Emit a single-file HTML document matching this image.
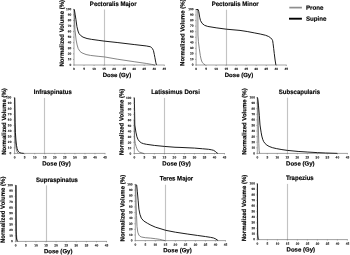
<!DOCTYPE html>
<html><head><meta charset="utf-8"><title>DVH</title>
<style>
html,body{margin:0;padding:0;background:#fff;}
svg{display:block;font-family:"Liberation Sans",sans-serif;}
text{font-family:"Liberation Sans",sans-serif;font-weight:bold;fill:#000;stroke:#000;text-rendering:geometricPrecision;}
.t{font-size:6.40px;stroke-width:0.17px;}
.l{font-size:6.04px;stroke-width:0.17px;}
.g{font-size:6.20px;stroke-width:0.17px;}
.k{font-size:3.20px;stroke-width:0.08px;}
.fx{filter:blur(0.2px);}
</style></head><body>
<svg width="350" height="255" viewBox="0 0 350 255">
<rect width="350" height="255" fill="#fff"/>
<g class="fx">
<g>
<line x1="104.50" y1="9.50" x2="104.50" y2="65.00" stroke="#c3c3c3" stroke-width="1.14"/>
<path d="M74.10 9.30 L74.50 17.65 L74.90 29.35 L76.11 39.94 L77.11 44.95 L78.21 48.57 L80.02 51.46 L82.03 52.91 L86.04 54.53 L90.45 55.42 L98.08 56.31 L104.50 56.92 L117.14 59.15 L134.20 61.71 L146.24 63.44 L151.26 64.33 L154.87 65.00" fill="none" stroke="#707070" stroke-width="0.85" stroke-linejoin="round"/>
<path d="M74.00 9.30 L74.40 9.86 L75.20 14.87 L75.91 19.33 L76.91 26.57 L78.01 31.02 L79.02 33.59 L80.62 35.48 L83.03 37.15 L87.04 38.54 L91.66 39.38 L98.08 40.27 L104.10 41.10 L117.14 42.50 L134.20 44.56 L146.24 45.95 L150.25 46.73 L151.46 47.45 L152.46 48.68 L153.46 50.57 L154.27 54.42 L154.87 57.42 L155.87 62.77 L156.47 65.00" fill="none" stroke="#000" stroke-width="0.9" stroke-linejoin="round"/>
<path d="M74.00 9.30 V65.00 H164.70" fill="none" stroke="#444" stroke-width="0.5"/>
<path d="M74.00 65.00h-1 M74.00 59.43h-1 M74.00 53.86h-1 M74.00 48.29h-1 M74.00 42.72h-1 M74.00 37.15h-1 M74.00 31.58h-1 M74.00 26.01h-1 M74.00 20.44h-1 M74.00 14.87h-1 M74.00 9.30h-1 M74.00 65.00v1 M84.03 65.00v1 M94.07 65.00v1 M104.10 65.00v1 M114.13 65.00v1 M124.17 65.00v1 M134.20 65.00v1 M144.23 65.00v1 M154.27 65.00v1 M164.30 65.00v1" stroke="#444" stroke-width="0.35" fill="none"/>
<text class="k" transform="translate(71.23 65.90) rotate(0.05)" text-anchor="end">0</text>
<text class="k" transform="translate(71.23 60.33) rotate(0.05)" text-anchor="end">10</text>
<text class="k" transform="translate(71.23 54.76) rotate(0.05)" text-anchor="end">20</text>
<text class="k" transform="translate(71.23 49.19) rotate(0.05)" text-anchor="end">30</text>
<text class="k" transform="translate(71.23 43.62) rotate(0.05)" text-anchor="end">40</text>
<text class="k" transform="translate(71.23 38.05) rotate(0.05)" text-anchor="end">50</text>
<text class="k" transform="translate(71.23 32.48) rotate(0.05)" text-anchor="end">60</text>
<text class="k" transform="translate(71.23 26.91) rotate(0.05)" text-anchor="end">70</text>
<text class="k" transform="translate(71.23 21.34) rotate(0.05)" text-anchor="end">80</text>
<text class="k" transform="translate(71.23 15.77) rotate(0.05)" text-anchor="end">90</text>
<text class="k" transform="translate(71.23 10.20) rotate(0.05)" text-anchor="end">100</text>
<text class="k" transform="translate(74.00 70.05) rotate(0.05)" text-anchor="middle">0</text>
<text class="k" transform="translate(84.03 70.05) rotate(0.05)" text-anchor="middle">5</text>
<text class="k" transform="translate(94.07 70.05) rotate(0.05)" text-anchor="middle">10</text>
<text class="k" transform="translate(104.10 70.05) rotate(0.05)" text-anchor="middle">15</text>
<text class="k" transform="translate(114.13 70.05) rotate(0.05)" text-anchor="middle">20</text>
<text class="k" transform="translate(124.17 70.05) rotate(0.05)" text-anchor="middle">25</text>
<text class="k" transform="translate(134.20 70.05) rotate(0.05)" text-anchor="middle">30</text>
<text class="k" transform="translate(144.23 70.05) rotate(0.05)" text-anchor="middle">35</text>
<text class="k" transform="translate(154.27 70.05) rotate(0.05)" text-anchor="middle">40</text>
<text class="k" transform="translate(164.30 70.05) rotate(0.05)" text-anchor="middle">45</text>
<text class="t" transform="translate(113.20 6.00) rotate(0.05) scale(0.945 1)" text-anchor="middle">Pectoralis Major</text>
<text class="l" transform="translate(116.90 76.90) rotate(0.05)" text-anchor="middle">Dose (Gy)</text>
<text class="l" transform="translate(63.70 33.20) rotate(-89.95)" text-anchor="middle">Normalized Volume (%)</text>
</g>
<g>
<line x1="226.50" y1="9.70" x2="226.50" y2="65.00" stroke="#c3c3c3" stroke-width="1.14"/>
<path d="M196.30 9.50 L197.60 9.50 L197.86 13.94 L197.94 35.03 L198.41 41.69 L199.31 48.68 L200.31 55.56 L201.01 58.89 L201.61 61.00 L202.51 62.78 L203.72 63.89 L205.32 65.00" fill="none" stroke="#707070" stroke-width="0.85" stroke-linejoin="round"/>
<path d="M196.30 9.50 L198.10 9.50 L198.81 11.72 L199.71 17.27 L200.51 20.60 L202.11 23.37 L204.52 25.32 L207.73 26.43 L216.14 27.81 L226.37 29.20 L240.00 30.42 L247.21 31.53 L254.23 32.87 L260.24 34.03 L265.65 35.31 L268.66 36.53 L270.67 37.86 L271.87 39.19 L272.67 40.69 L273.07 43.58 L273.67 48.35 L274.27 53.57 L275.08 60.01 L275.88 65.00" fill="none" stroke="#000" stroke-width="0.9" stroke-linejoin="round"/>
<path d="M196.10 9.50 V65.00 H286.70" fill="none" stroke="#444" stroke-width="0.5"/>
<path d="M196.10 65.00h-1 M196.10 59.45h-1 M196.10 53.90h-1 M196.10 48.35h-1 M196.10 42.80h-1 M196.10 37.25h-1 M196.10 31.70h-1 M196.10 26.15h-1 M196.10 20.60h-1 M196.10 15.05h-1 M196.10 9.50h-1 M196.10 65.00v1 M206.12 65.00v1 M216.14 65.00v1 M226.17 65.00v1 M236.19 65.00v1 M246.21 65.00v1 M256.23 65.00v1 M266.26 65.00v1 M276.28 65.00v1 M286.30 65.00v1" stroke="#444" stroke-width="0.35" fill="none"/>
<text class="k" transform="translate(193.53 65.70) rotate(0.05)" text-anchor="end">0</text>
<text class="k" transform="translate(193.53 60.15) rotate(0.05)" text-anchor="end">10</text>
<text class="k" transform="translate(193.53 54.60) rotate(0.05)" text-anchor="end">20</text>
<text class="k" transform="translate(193.53 49.05) rotate(0.05)" text-anchor="end">30</text>
<text class="k" transform="translate(193.53 43.50) rotate(0.05)" text-anchor="end">40</text>
<text class="k" transform="translate(193.53 37.95) rotate(0.05)" text-anchor="end">50</text>
<text class="k" transform="translate(193.53 32.40) rotate(0.05)" text-anchor="end">60</text>
<text class="k" transform="translate(193.53 26.85) rotate(0.05)" text-anchor="end">70</text>
<text class="k" transform="translate(193.53 21.30) rotate(0.05)" text-anchor="end">80</text>
<text class="k" transform="translate(193.53 15.75) rotate(0.05)" text-anchor="end">90</text>
<text class="k" transform="translate(193.53 10.20) rotate(0.05)" text-anchor="end">100</text>
<text class="k" transform="translate(196.10 70.05) rotate(0.05)" text-anchor="middle">0</text>
<text class="k" transform="translate(206.12 70.05) rotate(0.05)" text-anchor="middle">5</text>
<text class="k" transform="translate(216.14 70.05) rotate(0.05)" text-anchor="middle">10</text>
<text class="k" transform="translate(226.17 70.05) rotate(0.05)" text-anchor="middle">15</text>
<text class="k" transform="translate(236.19 70.05) rotate(0.05)" text-anchor="middle">20</text>
<text class="k" transform="translate(246.21 70.05) rotate(0.05)" text-anchor="middle">25</text>
<text class="k" transform="translate(256.23 70.05) rotate(0.05)" text-anchor="middle">30</text>
<text class="k" transform="translate(266.26 70.05) rotate(0.05)" text-anchor="middle">35</text>
<text class="k" transform="translate(276.28 70.05) rotate(0.05)" text-anchor="middle">40</text>
<text class="k" transform="translate(286.30 70.05) rotate(0.05)" text-anchor="middle">45</text>
<text class="t" transform="translate(235.20 6.00) rotate(0.05) scale(0.945 1)" text-anchor="middle">Pectoralis Minor</text>
<text class="l" transform="translate(239.00 76.90) rotate(0.05)" text-anchor="middle">Dose (Gy)</text>
<text class="l" transform="translate(184.40 32.65) rotate(-89.95)" text-anchor="middle">Normalized Volume (%)</text>
</g>
<g>
<line x1="44.50" y1="97.90" x2="44.50" y2="153.40" stroke="#c3c3c3" stroke-width="1.14"/>
<path d="M14.60 97.70 L14.70 114.41 L14.84 128.34 L15.10 136.69 L15.60 144.49 L16.21 148.94 L17.01 151.73 L18.22 153.40" fill="none" stroke="#707070" stroke-width="0.85" stroke-linejoin="round"/>
<path d="M14.70 97.70 L14.90 108.84 L15.10 122.77 L15.40 132.51 L15.91 140.03 L16.47 145.32 L17.11 148.67 L17.75 150.39 L18.62 151.84 L19.82 152.68 L21.63 153.18 L23.84 153.40" fill="none" stroke="#000" stroke-width="0.9" stroke-linejoin="round"/>
<path d="M14.60 97.70 V153.40 H105.40" fill="none" stroke="#444" stroke-width="0.5"/>
<path d="M14.60 153.40h-1 M14.60 147.83h-1 M14.60 142.26h-1 M14.60 136.69h-1 M14.60 131.12h-1 M14.60 125.55h-1 M14.60 119.98h-1 M14.60 114.41h-1 M14.60 108.84h-1 M14.60 103.27h-1 M14.60 97.70h-1 M14.60 153.40v1 M24.64 153.40v1 M34.69 153.40v1 M44.73 153.40v1 M54.78 153.40v1 M64.82 153.40v1 M74.87 153.40v1 M84.91 153.40v1 M94.96 153.40v1 M105.00 153.40v1" stroke="#444" stroke-width="0.35" fill="none"/>
<text class="k" transform="translate(11.40 154.25) rotate(0.05)" text-anchor="end">0</text>
<text class="k" transform="translate(11.40 148.68) rotate(0.05)" text-anchor="end">10</text>
<text class="k" transform="translate(11.40 143.11) rotate(0.05)" text-anchor="end">20</text>
<text class="k" transform="translate(11.40 137.54) rotate(0.05)" text-anchor="end">30</text>
<text class="k" transform="translate(11.40 131.97) rotate(0.05)" text-anchor="end">40</text>
<text class="k" transform="translate(11.40 126.40) rotate(0.05)" text-anchor="end">50</text>
<text class="k" transform="translate(11.40 120.83) rotate(0.05)" text-anchor="end">60</text>
<text class="k" transform="translate(11.40 115.26) rotate(0.05)" text-anchor="end">70</text>
<text class="k" transform="translate(11.40 109.69) rotate(0.05)" text-anchor="end">80</text>
<text class="k" transform="translate(11.40 104.12) rotate(0.05)" text-anchor="end">90</text>
<text class="k" transform="translate(11.40 98.55) rotate(0.05)" text-anchor="end">100</text>
<text class="k" transform="translate(14.60 158.45) rotate(0.05)" text-anchor="middle">0</text>
<text class="k" transform="translate(24.64 158.45) rotate(0.05)" text-anchor="middle">5</text>
<text class="k" transform="translate(34.69 158.45) rotate(0.05)" text-anchor="middle">10</text>
<text class="k" transform="translate(44.73 158.45) rotate(0.05)" text-anchor="middle">15</text>
<text class="k" transform="translate(54.78 158.45) rotate(0.05)" text-anchor="middle">20</text>
<text class="k" transform="translate(64.82 158.45) rotate(0.05)" text-anchor="middle">25</text>
<text class="k" transform="translate(74.87 158.45) rotate(0.05)" text-anchor="middle">30</text>
<text class="k" transform="translate(84.91 158.45) rotate(0.05)" text-anchor="middle">35</text>
<text class="k" transform="translate(94.96 158.45) rotate(0.05)" text-anchor="middle">40</text>
<text class="k" transform="translate(105.00 158.45) rotate(0.05)" text-anchor="middle">45</text>
<text class="t" transform="translate(52.80 94.10) rotate(0.05) scale(0.945 1)" text-anchor="middle">Infraspinatus</text>
<text class="l" transform="translate(56.50 165.40) rotate(0.05)" text-anchor="middle">Dose (Gy)</text>
<text class="l" transform="translate(6.00 121.50) rotate(-89.95)" text-anchor="middle">Normalized Volume (%)</text>
</g>
<g>
<line x1="164.50" y1="97.90" x2="164.50" y2="153.50" stroke="#c3c3c3" stroke-width="1.14"/>
<path d="M134.30 120.02 L134.40 130.62 L134.70 139.27 L135.30 143.46 L136.10 146.41 L136.91 148.76 L137.91 150.71 L139.51 152.10 L142.12 152.94 L143.92 153.50" fill="none" stroke="#707070" stroke-width="0.85" stroke-linejoin="round"/>
<path d="M134.30 97.70 L134.46 103.28 L134.60 111.65 L134.80 125.04 L135.90 132.13 L136.91 136.76 L137.91 139.27 L139.51 141.50 L141.42 142.90 L143.52 143.68 L146.33 144.29 L154.34 145.41 L164.37 146.41 L174.99 147.25 L180.00 147.42 L194.43 148.09 L202.45 148.76 L208.66 149.31 L211.67 149.82 L213.68 150.38 L215.68 151.71 L216.88 152.83 L217.89 153.50" fill="none" stroke="#000" stroke-width="0.9" stroke-linejoin="round"/>
<path d="M134.30 97.70 V153.50 H224.90" fill="none" stroke="#444" stroke-width="0.5"/>
<path d="M134.30 153.50h-1 M134.30 147.92h-1 M134.30 142.34h-1 M134.30 136.76h-1 M134.30 131.18h-1 M134.30 125.60h-1 M134.30 120.02h-1 M134.30 114.44h-1 M134.30 108.86h-1 M134.30 103.28h-1 M134.30 97.70h-1 M134.30 153.50v1 M144.32 153.50v1 M154.34 153.50v1 M164.37 153.50v1 M174.39 153.50v1 M184.41 153.50v1 M194.43 153.50v1 M204.46 153.50v1 M214.48 153.50v1 M224.50 153.50v1" stroke="#444" stroke-width="0.35" fill="none"/>
<text class="k" transform="translate(131.23 154.80) rotate(0.05)" text-anchor="end">0</text>
<text class="k" transform="translate(131.23 149.22) rotate(0.05)" text-anchor="end">10</text>
<text class="k" transform="translate(131.23 143.64) rotate(0.05)" text-anchor="end">20</text>
<text class="k" transform="translate(131.23 138.06) rotate(0.05)" text-anchor="end">30</text>
<text class="k" transform="translate(131.23 132.48) rotate(0.05)" text-anchor="end">40</text>
<text class="k" transform="translate(131.23 126.90) rotate(0.05)" text-anchor="end">50</text>
<text class="k" transform="translate(131.23 121.32) rotate(0.05)" text-anchor="end">60</text>
<text class="k" transform="translate(131.23 115.74) rotate(0.05)" text-anchor="end">70</text>
<text class="k" transform="translate(131.23 110.16) rotate(0.05)" text-anchor="end">80</text>
<text class="k" transform="translate(131.23 104.58) rotate(0.05)" text-anchor="end">90</text>
<text class="k" transform="translate(131.23 99.00) rotate(0.05)" text-anchor="end">100</text>
<text class="k" transform="translate(134.30 158.55) rotate(0.05)" text-anchor="middle">0</text>
<text class="k" transform="translate(144.32 158.55) rotate(0.05)" text-anchor="middle">5</text>
<text class="k" transform="translate(154.34 158.55) rotate(0.05)" text-anchor="middle">10</text>
<text class="k" transform="translate(164.37 158.55) rotate(0.05)" text-anchor="middle">15</text>
<text class="k" transform="translate(174.39 158.55) rotate(0.05)" text-anchor="middle">20</text>
<text class="k" transform="translate(184.41 158.55) rotate(0.05)" text-anchor="middle">25</text>
<text class="k" transform="translate(194.43 158.55) rotate(0.05)" text-anchor="middle">30</text>
<text class="k" transform="translate(204.46 158.55) rotate(0.05)" text-anchor="middle">35</text>
<text class="k" transform="translate(214.48 158.55) rotate(0.05)" text-anchor="middle">40</text>
<text class="k" transform="translate(224.50 158.55) rotate(0.05)" text-anchor="middle">45</text>
<text class="t" transform="translate(175.50 94.10) rotate(0.05) scale(0.945 1)" text-anchor="middle">Latissimus Dorsi</text>
<text class="l" transform="translate(176.60 165.40) rotate(0.05)" text-anchor="middle">Dose (Gy)</text>
<text class="l" transform="translate(123.60 121.95) rotate(-89.95)" text-anchor="middle">Normalized Volume (%)</text>
</g>
<g>
<line x1="287.50" y1="97.70" x2="287.50" y2="153.40" stroke="#c3c3c3" stroke-width="1.14"/>
<path d="M257.40 97.50 L257.80 105.88 L258.30 125.45 L258.80 143.34 L259.10 150.61 L259.60 153.40" fill="none" stroke="#707070" stroke-width="0.85" stroke-linejoin="round"/>
<path d="M257.50 97.50 L257.90 99.74 L258.50 105.88 L259.30 115.39 L260.00 125.00 L261.10 132.16 L261.81 136.07 L262.71 139.31 L263.71 141.66 L265.11 143.56 L266.91 145.13 L269.11 146.41 L272.32 147.64 L276.32 148.59 L281.93 149.60 L287.33 150.38 L298.15 151.44 L307.76 152.06 L317.37 152.62 L325.38 153.01 L337.39 153.40" fill="none" stroke="#000" stroke-width="0.9" stroke-linejoin="round"/>
<path d="M257.30 97.50 V153.40 H347.80" fill="none" stroke="#444" stroke-width="0.5"/>
<path d="M257.30 153.40h-1 M257.30 147.81h-1 M257.30 142.22h-1 M257.30 136.63h-1 M257.30 131.04h-1 M257.30 125.45h-1 M257.30 119.86h-1 M257.30 114.27h-1 M257.30 108.68h-1 M257.30 103.09h-1 M257.30 97.50h-1 M257.30 153.40v1 M267.31 153.40v1 M277.32 153.40v1 M287.33 153.40v1 M297.34 153.40v1 M307.36 153.40v1 M317.37 153.40v1 M327.38 153.40v1 M337.39 153.40v1 M347.40 153.40v1" stroke="#444" stroke-width="0.35" fill="none"/>
<text class="k" transform="translate(254.93 154.40) rotate(0.05)" text-anchor="end">0</text>
<text class="k" transform="translate(254.93 148.81) rotate(0.05)" text-anchor="end">10</text>
<text class="k" transform="translate(254.93 143.22) rotate(0.05)" text-anchor="end">20</text>
<text class="k" transform="translate(254.93 137.63) rotate(0.05)" text-anchor="end">30</text>
<text class="k" transform="translate(254.93 132.04) rotate(0.05)" text-anchor="end">40</text>
<text class="k" transform="translate(254.93 126.45) rotate(0.05)" text-anchor="end">50</text>
<text class="k" transform="translate(254.93 120.86) rotate(0.05)" text-anchor="end">60</text>
<text class="k" transform="translate(254.93 115.27) rotate(0.05)" text-anchor="end">70</text>
<text class="k" transform="translate(254.93 109.68) rotate(0.05)" text-anchor="end">80</text>
<text class="k" transform="translate(254.93 104.09) rotate(0.05)" text-anchor="end">90</text>
<text class="k" transform="translate(254.93 98.50) rotate(0.05)" text-anchor="end">100</text>
<text class="k" transform="translate(257.30 158.45) rotate(0.05)" text-anchor="middle">0</text>
<text class="k" transform="translate(267.31 158.45) rotate(0.05)" text-anchor="middle">5</text>
<text class="k" transform="translate(277.32 158.45) rotate(0.05)" text-anchor="middle">10</text>
<text class="k" transform="translate(287.33 158.45) rotate(0.05)" text-anchor="middle">15</text>
<text class="k" transform="translate(297.34 158.45) rotate(0.05)" text-anchor="middle">20</text>
<text class="k" transform="translate(307.36 158.45) rotate(0.05)" text-anchor="middle">25</text>
<text class="k" transform="translate(317.37 158.45) rotate(0.05)" text-anchor="middle">30</text>
<text class="k" transform="translate(327.38 158.45) rotate(0.05)" text-anchor="middle">35</text>
<text class="k" transform="translate(337.39 158.45) rotate(0.05)" text-anchor="middle">40</text>
<text class="k" transform="translate(347.40 158.45) rotate(0.05)" text-anchor="middle">45</text>
<text class="t" transform="translate(299.40 94.10) rotate(0.05) scale(0.945 1)" text-anchor="middle">Subscapularis</text>
<text class="l" transform="translate(300.30 165.40) rotate(0.05)" text-anchor="middle">Dose (Gy)</text>
<text class="l" transform="translate(246.20 121.55) rotate(-89.95)" text-anchor="middle">Normalized Volume (%)</text>
</g>
<g>
<line x1="46.50" y1="185.40" x2="46.50" y2="241.40" stroke="#c3c3c3" stroke-width="1.14"/>
<path d="M16.31 185.20 L16.37 218.92 L16.51 234.66 L16.91 239.71 L17.52 241.40" fill="none" stroke="#707070" stroke-width="0.85" stroke-linejoin="round"/>
<path d="M15.80 185.20 L15.90 213.30 L16.06 231.28 L16.41 238.03 L17.01 240.56 L17.72 241.40" fill="none" stroke="#000" stroke-width="0.9" stroke-linejoin="round"/>
<path d="M15.70 185.20 V241.40 H107.00" fill="none" stroke="#444" stroke-width="0.5"/>
<path d="M15.70 241.40h-1 M15.70 235.78h-1 M15.70 230.16h-1 M15.70 224.54h-1 M15.70 218.92h-1 M15.70 213.30h-1 M15.70 207.68h-1 M15.70 202.06h-1 M15.70 196.44h-1 M15.70 190.82h-1 M15.70 185.20h-1 M15.70 241.40v1 M25.80 241.40v1 M35.90 241.40v1 M46.00 241.40v1 M56.10 241.40v1 M66.20 241.40v1 M76.30 241.40v1 M86.40 241.40v1 M96.50 241.40v1 M106.60 241.40v1" stroke="#444" stroke-width="0.35" fill="none"/>
<text class="k" transform="translate(12.83 242.35) rotate(0.05)" text-anchor="end">0</text>
<text class="k" transform="translate(12.83 236.73) rotate(0.05)" text-anchor="end">10</text>
<text class="k" transform="translate(12.83 231.11) rotate(0.05)" text-anchor="end">20</text>
<text class="k" transform="translate(12.83 225.49) rotate(0.05)" text-anchor="end">30</text>
<text class="k" transform="translate(12.83 219.87) rotate(0.05)" text-anchor="end">40</text>
<text class="k" transform="translate(12.83 214.25) rotate(0.05)" text-anchor="end">50</text>
<text class="k" transform="translate(12.83 208.63) rotate(0.05)" text-anchor="end">60</text>
<text class="k" transform="translate(12.83 203.01) rotate(0.05)" text-anchor="end">70</text>
<text class="k" transform="translate(12.83 197.39) rotate(0.05)" text-anchor="end">80</text>
<text class="k" transform="translate(12.83 191.77) rotate(0.05)" text-anchor="end">90</text>
<text class="k" transform="translate(12.83 186.15) rotate(0.05)" text-anchor="end">100</text>
<text class="k" transform="translate(15.70 246.45) rotate(0.05)" text-anchor="middle">0</text>
<text class="k" transform="translate(25.80 246.45) rotate(0.05)" text-anchor="middle">5</text>
<text class="k" transform="translate(35.90 246.45) rotate(0.05)" text-anchor="middle">10</text>
<text class="k" transform="translate(46.00 246.45) rotate(0.05)" text-anchor="middle">15</text>
<text class="k" transform="translate(56.10 246.45) rotate(0.05)" text-anchor="middle">20</text>
<text class="k" transform="translate(66.20 246.45) rotate(0.05)" text-anchor="middle">25</text>
<text class="k" transform="translate(76.30 246.45) rotate(0.05)" text-anchor="middle">30</text>
<text class="k" transform="translate(86.40 246.45) rotate(0.05)" text-anchor="middle">35</text>
<text class="k" transform="translate(96.50 246.45) rotate(0.05)" text-anchor="middle">40</text>
<text class="k" transform="translate(106.60 246.45) rotate(0.05)" text-anchor="middle">45</text>
<text class="t" transform="translate(57.00 181.90) rotate(0.05) scale(0.945 1)" text-anchor="middle">Supraspinatus</text>
<text class="l" transform="translate(58.20 253.30) rotate(0.05)" text-anchor="middle">Dose (Gy)</text>
<text class="l" transform="translate(4.70 209.80) rotate(-89.95)" text-anchor="middle">Normalized Volume (%)</text>
</g>
<g>
<line x1="165.50" y1="184.70" x2="165.50" y2="240.60" stroke="#c3c3c3" stroke-width="1.14"/>
<path d="M135.40 184.50 L135.80 187.31 L136.20 206.94 L136.50 215.35 L137.00 226.57 L137.81 232.19 L138.81 234.99 L140.11 236.39 L141.71 237.07 L145.32 237.68 L150.73 238.13 L155.34 238.69 L159.35 239.31 L162.36 240.04 L164.97 240.60" fill="none" stroke="#707070" stroke-width="0.85" stroke-linejoin="round"/>
<path d="M135.70 184.50 L136.70 185.06 L137.30 191.23 L138.11 200.21 L138.91 209.18 L139.91 214.23 L141.31 218.16 L143.72 220.97 L147.33 223.21 L150.93 225.17 L155.34 227.14 L165.77 230.33 L175.39 232.19 L187.82 234.09 L197.44 235.44 L205.46 236.56 L210.47 237.35 L213.47 237.96 L215.88 239.03 L218.08 240.60" fill="none" stroke="#000" stroke-width="0.9" stroke-linejoin="round"/>
<path d="M135.30 184.50 V240.60 H225.90" fill="none" stroke="#444" stroke-width="0.5"/>
<path d="M135.30 240.60h-1 M135.30 234.99h-1 M135.30 229.38h-1 M135.30 223.77h-1 M135.30 218.16h-1 M135.30 212.55h-1 M135.30 206.94h-1 M135.30 201.33h-1 M135.30 195.72h-1 M135.30 190.11h-1 M135.30 184.50h-1 M135.30 240.60v1 M145.32 240.60v1 M155.34 240.60v1 M165.37 240.60v1 M175.39 240.60v1 M185.41 240.60v1 M195.43 240.60v1 M205.46 240.60v1 M215.48 240.60v1 M225.50 240.60v1" stroke="#444" stroke-width="0.35" fill="none"/>
<text class="k" transform="translate(132.53 241.50) rotate(0.05)" text-anchor="end">0</text>
<text class="k" transform="translate(132.53 235.89) rotate(0.05)" text-anchor="end">10</text>
<text class="k" transform="translate(132.53 230.28) rotate(0.05)" text-anchor="end">20</text>
<text class="k" transform="translate(132.53 224.67) rotate(0.05)" text-anchor="end">30</text>
<text class="k" transform="translate(132.53 219.06) rotate(0.05)" text-anchor="end">40</text>
<text class="k" transform="translate(132.53 213.45) rotate(0.05)" text-anchor="end">50</text>
<text class="k" transform="translate(132.53 207.84) rotate(0.05)" text-anchor="end">60</text>
<text class="k" transform="translate(132.53 202.23) rotate(0.05)" text-anchor="end">70</text>
<text class="k" transform="translate(132.53 196.62) rotate(0.05)" text-anchor="end">80</text>
<text class="k" transform="translate(132.53 191.01) rotate(0.05)" text-anchor="end">90</text>
<text class="k" transform="translate(132.53 185.40) rotate(0.05)" text-anchor="end">100</text>
<text class="k" transform="translate(135.30 245.65) rotate(0.05)" text-anchor="middle">0</text>
<text class="k" transform="translate(145.32 245.65) rotate(0.05)" text-anchor="middle">5</text>
<text class="k" transform="translate(155.34 245.65) rotate(0.05)" text-anchor="middle">10</text>
<text class="k" transform="translate(165.37 245.65) rotate(0.05)" text-anchor="middle">15</text>
<text class="k" transform="translate(175.39 245.65) rotate(0.05)" text-anchor="middle">20</text>
<text class="k" transform="translate(185.41 245.65) rotate(0.05)" text-anchor="middle">25</text>
<text class="k" transform="translate(195.43 245.65) rotate(0.05)" text-anchor="middle">30</text>
<text class="k" transform="translate(205.46 245.65) rotate(0.05)" text-anchor="middle">35</text>
<text class="k" transform="translate(215.48 245.65) rotate(0.05)" text-anchor="middle">40</text>
<text class="k" transform="translate(225.50 245.65) rotate(0.05)" text-anchor="middle">45</text>
<text class="t" transform="translate(176.50 180.50) rotate(0.05) scale(0.945 1)" text-anchor="middle">Teres Major</text>
<text class="l" transform="translate(177.50 252.30) rotate(0.05)" text-anchor="middle">Dose (Gy)</text>
<text class="l" transform="translate(124.50 208.15) rotate(-89.95)" text-anchor="middle">Normalized Volume (%)</text>
</g>
<g>
<line x1="287.50" y1="183.90" x2="287.50" y2="239.60" stroke="#c3c3c3" stroke-width="1.14"/>
<path d="M257.40 183.70 L257.46 217.24 L257.60 235.13 L258.00 239.60" fill="none" stroke="#707070" stroke-width="0.85" stroke-linejoin="round"/>
<path d="M257.46 183.70 L257.54 217.24 L257.66 234.01 L258.00 238.20 L258.80 239.60" fill="none" stroke="#000" stroke-width="0.9" stroke-linejoin="round"/>
<path d="M257.40 183.70 V239.60 H347.80" fill="none" stroke="#444" stroke-width="0.5"/>
<path d="M257.40 239.60h-1 M257.40 234.01h-1 M257.40 228.42h-1 M257.40 222.83h-1 M257.40 217.24h-1 M257.40 211.65h-1 M257.40 206.06h-1 M257.40 200.47h-1 M257.40 194.88h-1 M257.40 189.29h-1 M257.40 183.70h-1 M257.40 239.60v1 M267.40 239.60v1 M277.40 239.60v1 M287.40 239.60v1 M297.40 239.60v1 M307.40 239.60v1 M317.40 239.60v1 M327.40 239.60v1 M337.40 239.60v1 M347.40 239.60v1" stroke="#444" stroke-width="0.35" fill="none"/>
<text class="k" transform="translate(254.93 240.35) rotate(0.05)" text-anchor="end">0</text>
<text class="k" transform="translate(254.93 234.76) rotate(0.05)" text-anchor="end">10</text>
<text class="k" transform="translate(254.93 229.17) rotate(0.05)" text-anchor="end">20</text>
<text class="k" transform="translate(254.93 223.58) rotate(0.05)" text-anchor="end">30</text>
<text class="k" transform="translate(254.93 217.99) rotate(0.05)" text-anchor="end">40</text>
<text class="k" transform="translate(254.93 212.40) rotate(0.05)" text-anchor="end">50</text>
<text class="k" transform="translate(254.93 206.81) rotate(0.05)" text-anchor="end">60</text>
<text class="k" transform="translate(254.93 201.22) rotate(0.05)" text-anchor="end">70</text>
<text class="k" transform="translate(254.93 195.63) rotate(0.05)" text-anchor="end">80</text>
<text class="k" transform="translate(254.93 190.04) rotate(0.05)" text-anchor="end">90</text>
<text class="k" transform="translate(254.93 184.45) rotate(0.05)" text-anchor="end">100</text>
<text class="k" transform="translate(257.40 244.65) rotate(0.05)" text-anchor="middle">0</text>
<text class="k" transform="translate(267.40 244.65) rotate(0.05)" text-anchor="middle">5</text>
<text class="k" transform="translate(277.40 244.65) rotate(0.05)" text-anchor="middle">10</text>
<text class="k" transform="translate(287.40 244.65) rotate(0.05)" text-anchor="middle">15</text>
<text class="k" transform="translate(297.40 244.65) rotate(0.05)" text-anchor="middle">20</text>
<text class="k" transform="translate(307.40 244.65) rotate(0.05)" text-anchor="middle">25</text>
<text class="k" transform="translate(317.40 244.65) rotate(0.05)" text-anchor="middle">30</text>
<text class="k" transform="translate(327.40 244.65) rotate(0.05)" text-anchor="middle">35</text>
<text class="k" transform="translate(337.40 244.65) rotate(0.05)" text-anchor="middle">40</text>
<text class="k" transform="translate(347.40 244.65) rotate(0.05)" text-anchor="middle">45</text>
<text class="t" transform="translate(299.80 179.90) rotate(0.05) scale(0.945 1)" text-anchor="middle">Trapezius</text>
<text class="l" transform="translate(300.80 251.50) rotate(0.05)" text-anchor="middle">Dose (Gy)</text>
<text class="l" transform="translate(246.10 207.95) rotate(-89.95)" text-anchor="middle">Normalized Volume (%)</text>
</g>
<line x1="289.3" y1="7.6" x2="301.9" y2="7.6" stroke="#8e8e8e" stroke-width="1.7"/>
<line x1="289" y1="18.7" x2="301.9" y2="18.7" stroke="#000" stroke-width="1.9"/>
<text class="g" transform="translate(305.90 9.70) rotate(0.05)">Prone</text>
<text class="g" transform="translate(305.90 20.70) rotate(0.05)">Supine</text>
</g>
</svg>
</body></html>
